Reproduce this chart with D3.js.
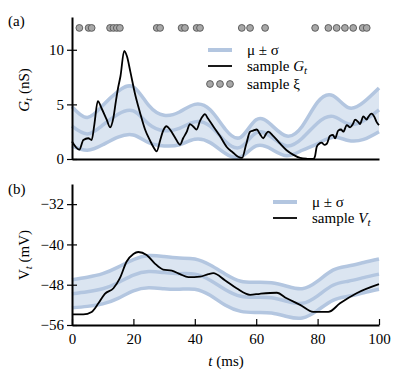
<!DOCTYPE html>
<html>
<head>
<meta charset="utf-8">
<script src="https://cdn.jsdelivr.net/npm/d3@7"></script>
<style>
  body { margin: 0; background: #fff; }
  svg text { font-family: "Liberation Serif", "DejaVu Serif", serif; }
</style>
</head>
<body>
<svg id="fig" width="408" height="388"></svg>
<script>
// time grid for the mean / sd curves (ms)
const tGrid = [0, 5, 10, 15, 20, 25, 30, 35, 40, 45, 50, 55, 60, 65, 70, 75, 80, 85, 90, 95, 100];

// panel (a): conductance
const gMean = [3.0, 2.3, 3.1, 4.1, 4.4, 3.2, 2.6, 2.8, 3.4, 3.0, 1.6, 1.1, 2.4, 2.0, 1.2, 1.9, 3.3, 3.9, 3.2, 3.5, 4.5];
const gSd   = [1.8, 1.5, 1.8, 2.1, 2.2, 1.7, 1.4, 1.5, 1.6, 1.5, 1.1, 0.9, 1.2, 1.1, 0.9, 1.1, 1.9, 1.9, 1.5, 1.7, 2.0];
const gSample = [
  [0, 1.6], [2.4, 0.85], [3.7, 1.74], [5.3, 1.9], [6.4, 1.74], [7.3, 3.2], [8.4, 5.3], [9.7, 4.6],
  [11.3, 3.6], [12.4, 2.9], [13.5, 3.8], [14.3, 5.3], [15.0, 6.5], [15.8, 7.6], [17.0, 9.9], [17.9, 9.4],
  [19.0, 8.0], [20.5, 6.0], [21.6, 4.8], [22.7, 3.7], [23.8, 2.7], [25.4, 1.7], [26.5, 1.1], [27.6, 0.7],
  [28.7, 1.7], [29.7, 2.6], [30.8, 3.0], [31.9, 2.7], [33.5, 2.0], [35.2, 1.3], [36.2, 1.9], [37.4, 2.5],
  [38.4, 3.2], [39.4, 3.0], [40.6, 2.7], [41.7, 3.5], [42.8, 4.0], [43.3, 4.1], [44.3, 3.7], [46.0, 3.0],
  [48.2, 2.1], [50.4, 1.1], [52.4, 0.6], [54.1, 0.2], [55.4, 0.1], [56.7, 1.3], [58.0, 2.5], [59.0, 2.6],
  [60.2, 2.7], [61.2, 2.3], [62.3, 1.9], [63.2, 2.3], [63.9, 2.5], [65.6, 2.1], [67.8, 1.4], [69.9, 0.8],
  [72.0, 0.4], [74.3, 0.1], [76.5, 0.02], [78.6, 0], [79.2, 0.3], [79.7, 1.1], [80.5, 1.4], [81.3, 1.5],
  [82.2, 1.3], [83.0, 1.4], [84.0, 2.1], [85.0, 2.2], [85.7, 1.9], [86.7, 2.6], [87.6, 2.7], [88.4, 2.5],
  [89.5, 3.1], [90.6, 2.9], [91.5, 3.2], [92.2, 3.6], [93.2, 3.4], [93.8, 3.2], [94.9, 3.9], [96.0, 3.6],
  [96.4, 3.8], [97.6, 4.15], [98.4, 3.9], [99.2, 3.4], [100, 3.1]
];
const xiTimes = [2.4, 5.4, 6.4, 12.4, 13.5, 14.6, 15.6, 27.6, 28.7, 35.7, 36.8, 40.6, 41.7,
                 55.3, 58.0, 62.9, 79.2, 83.5, 86.2, 88.9, 91.6, 94.7, 96.0];
const xiLevel = 12;

// panel (b): membrane potential
const vMean = [-49.8, -49.4, -48.8, -47.6, -46.1, -45.4, -45.6, -45.8, -45.9, -47.1, -49.0,
               -50.3, -50.5, -50.6, -51.3, -51.7, -50.2, -48.1, -47.3, -46.6, -45.9];
const vSd   = [2.8, 2.9, 3.0, 3.1, 3.1, 3.2, 3.2, 3.1, 3.0, 3.0, 3.1,
               3.0, 3.0, 3.0, 3.0, 2.9, 2.9, 3.0, 3.0, 3.0, 3.0];
const vSample = [
  [0, -53.9], [3.7, -53.9], [6.4, -53.4], [8.6, -51.7], [10.7, -49.8], [13.5, -48.7], [15.6, -46.7],
  [17.8, -43.4], [20.0, -41.9], [21.6, -41.5], [24.3, -42.1], [27.0, -43.8], [29.7, -45.0], [32.5, -45.2],
  [35.2, -45.9], [37.9, -46.5], [41.7, -46.4], [44.4, -45.9], [46.0, -45.7], [49.8, -47.1], [53.6, -48.7],
  [58.0, -50.0], [61.2, -49.8], [66.7, -49.6], [69.9, -50.7], [74.3, -52.0], [78.6, -53.4], [83.5, -53.4],
  [87.3, -51.7], [92.7, -49.7], [100, -47.9]
];

const xTicks = [0, 20, 40, 60, 80, 100];
const gTicks = [0, 5, 10];
const vTicks = [-56, -48, -40, -32];

const serif = "Liberation Serif, DejaVu Serif, serif";
const bandFill = "#dbe5f1";
const bandLine = "#b3c6e0";

const svg = d3.select("#fig").attr("font-family", serif);
const x = d3.scaleLinear().domain([0, 100]).range([72, 379]);
const yG = d3.scaleLinear().domain([0, 13]).range([159, 17]);
const yV = d3.scaleLinear().domain([-56, -28]).range([325, 184]);

function band(g, y, mean, sd) {
  const rows = tGrid.map((t, i) => ({ t: t, m: mean[i], s: sd[i] }));
  g.append("path")
    .datum(rows)
    .attr("fill", bandFill)
    .attr("d", d3.area().curve(d3.curveNatural)
      .x(d => x(d.t)).y0(d => y(d.m - d.s)).y1(d => y(d.m + d.s)));
  [-1, 0, 1].forEach(k => {
    g.append("path")
      .datum(rows)
      .attr("fill", "none")
      .attr("stroke", bandLine)
      .attr("stroke-width", 3.5)
      .attr("d", d3.line().curve(d3.curveNatural)
        .x(d => x(d.t)).y(d => y(d.m + k * d.s)));
  });
}

function sampleLine(g, y, pts) {
  g.append("path")
    .datum(pts)
    .attr("fill", "none")
    .attr("stroke", "#000")
    .attr("stroke-width", 1.8)
    .attr("d", d3.line().curve(d3.curveMonotoneX)
      .x(d => x(d[0])).y(d => y(d[1])));
}

function yAxis(g, y, ticks) {
  const a = g.append("g")
    .attr("transform", "translate(72,0)")
    .call(d3.axisLeft(y).tickValues(ticks).tickSizeInner(5).tickSizeOuter(0).tickPadding(3));
  a.attr("font-family", serif).attr("font-size", 15);
  a.selectAll(".tick line").attr("x1", 5).attr("stroke-width", 1.2);
  a.select(".domain").attr("stroke-width", 2);
  return a;
}

// ---- panel (a)
const pa = svg.append("g");
band(pa, yG, gMean, gSd);
sampleLine(pa, yG, gSample);
pa.selectAll("circle.xi")
  .data(xiTimes)
  .join("circle")
  .attr("class", "xi")
  .attr("cx", d => x(d))
  .attr("cy", yG(xiLevel))
  .attr("r", 3.4)
  .attr("fill", "#a8a8a8")
  .attr("stroke", "#555")
  .attr("stroke-width", 0.9);
yAxis(pa, yG, gTicks);
pa.append("g")
  .attr("transform", `translate(0,${yG(0)})`)
  .call(d3.axisBottom(x).tickValues([]).tickSizeOuter(0))
  .select(".domain").attr("stroke-width", 2);

// ---- panel (b)
const pb = svg.append("g");
band(pb, yV, vMean, vSd);
sampleLine(pb, yV, vSample);
yAxis(pb, yV, vTicks);
const xb = pb.append("g")
  .attr("transform", `translate(0,${yV(-56)})`)
  .call(d3.axisBottom(x).tickValues(xTicks).tickSizeInner(-6).tickSizeOuter(0).tickPadding(8));
xb.attr("font-family", serif).attr("font-size", 15);
xb.select(".domain").attr("stroke-width", 2);
xb.selectAll(".tick line").attr("stroke-width", 1.2);

// ---- labels
function label(px, py, rot) {
  return svg.append("text")
    .attr("font-size", 15)
    .attr("text-anchor", "middle")
    .attr("transform", `translate(${px},${py})` + (rot ? " rotate(-90)" : ""));
}
svg.append("text").attr("x", 8).attr("y", 26).attr("font-size", 15).text("(a)");
svg.append("text").attr("x", 8).attr("y", 194).attr("font-size", 15).text("(b)");

const la = label(29, 90, true);
la.append("tspan").attr("font-style", "italic").text("G");
la.append("tspan").attr("font-style", "italic").attr("font-size", 11).attr("dy", 3).text("t");
la.append("tspan").attr("dy", -3).text(" (nS)");

const lb = label(29, 255, true);
lb.append("tspan").text("V");
lb.append("tspan").attr("font-style", "italic").attr("font-size", 11).attr("dy", 3).text("t");
lb.append("tspan").attr("dy", -3).text(" (mV)");

const lx = label(226, 366, false);
lx.append("tspan").attr("font-style", "italic").text("t");
lx.append("tspan").text(" (ms)");

// ---- legends
function legendBand(g, lx, ly) {
  g.append("line").attr("x1", lx).attr("x2", lx + 24).attr("y1", ly).attr("y2", ly)
    .attr("stroke", bandLine).attr("stroke-width", 4);
  g.append("text").attr("x", lx + 39).attr("y", ly + 5).attr("font-size", 15).text("\u03bc \u00b1 \u03c3");
}
function legendSample(g, lx, ly, sym) {
  g.append("line").attr("x1", lx).attr("x2", lx + 24).attr("y1", ly).attr("y2", ly)
    .attr("stroke", "#000").attr("stroke-width", 1.8);
  const t = g.append("text").attr("x", lx + 39).attr("y", ly + 5).attr("font-size", 15);
  t.append("tspan").text("sample ");
  t.append("tspan").attr("font-style", "italic").text(sym);
  t.append("tspan").attr("font-style", "italic").attr("font-size", 11).attr("dy", 3).text("t");
}
const lgA = svg.append("g");
legendBand(lgA, 208, 50);
legendSample(lgA, 208, 66, "G");
[210, 220, 230].forEach(cx => lgA.append("circle").attr("cx", cx).attr("cy", 84).attr("r", 3.4)
  .attr("fill", "#a8a8a8").attr("stroke", "#555").attr("stroke-width", 0.9));
lgA.append("text").attr("x", 247).attr("y", 89).attr("font-size", 15).text("sample \u03be");

const lgB = svg.append("g");
legendBand(lgB, 273, 202);
legendSample(lgB, 273, 218, "V");
</script>
</body>
</html>
